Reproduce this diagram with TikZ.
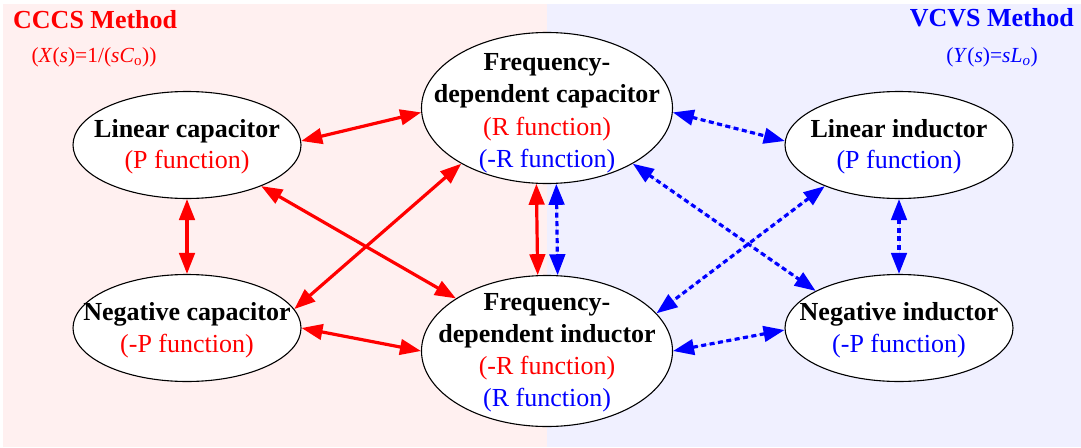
\documentclass[tikz,border=0pt]{standalone}
\usepackage{fontspec}
\setmainfont{Liberation Serif}
\usetikzlibrary{arrows.meta,shapes.geometric}
\definecolor{bgpink}{RGB}{255,240,240}
\definecolor{bgblue}{RGB}{240,240,255}
\begin{document}
\begin{tikzpicture}[x=1pt,y=-1pt,
  ell/.style={ellipse,draw=black,line width=1.1pt,fill=white,inner sep=0pt},
  smallell/.style={ell,minimum width=228pt,minimum height=107pt},
  bigell/.style={ell,minimum width=251pt,minimum height=151pt},
  ttl/.style={anchor=base,inner sep=0pt,font=\fontsize{26}{31}\selectfont\bfseries},
  fn/.style={anchor=base,inner sep=0pt,font=\fontsize{26}{31}\selectfont},
  hdr/.style={inner sep=0pt,font=\fontsize{26}{30}\selectfont\bfseries},
  sub/.style={anchor=base,inner sep=0pt,font=\fontsize{21.5}{26}\selectfont},
  rarr/.style={draw=red,fill=red,line width=3.2pt,{Triangle[length=21pt,width=15.5pt]}-{Triangle[length=21pt,width=15.5pt]}},
  barr/.style={draw=blue,fill=blue,line width=3.2pt,dash pattern=on 5pt off 3.5pt,{Triangle[length=21pt,width=15.5pt]}-{Triangle[length=21pt,width=15.5pt]}}
]
\useasboundingbox (0,0) rectangle (1081,447);
\fill[bgpink] (3,4) rectangle (547,447);
\fill[bgblue] (547,4) rectangle (1081,447);

% headers
\node[hdr,anchor=base west,text=red] (h1) at (13,28) {CCCS Method};
\node[sub,text=red] (s1) at (94,62) {(\textit{X}(\textit{s})=1/(\textit{sC}\textsubscript{o}))};
\node[hdr,anchor=base east,text=blue] (h2) at (1074,27) {VCVS Method};
\node[sub,text=blue] (s2) at (992,62) {(\textit{Y}(\textit{s})=\textit{sL}\textsubscript{\textit{o}})};

% ellipses
\node[smallell] (lc) at (187,145) {};
\node[smallell] (nc) at (187,328) {};
\node[bigell] (fdc) at (547,108) {};
\node[bigell] (fdi) at (547,351) {};
\node[smallell] (li) at (899,145) {};
\node[smallell] (ni) at (899,328) {};

% texts
\node[ttl] (lct) at (187,137) {Linear capacitor};
\node[fn,text=red] (lcf) at (187,168) {(P function)};
\node[ttl] (nct) at (187,320) {Negative capacitor};
\node[fn,text=red] (ncf) at (187,352) {(-P function)};
\node[ttl] (lit) at (899,137) {Linear inductor};
\node[fn,text=blue] (lif) at (899,168) {(P function)};
\node[ttl] (nit) at (899,320) {Negative inductor};
\node[fn,text=blue] (nif) at (899,352) {(-P function)};
\node[ttl] (fdct1) at (547,70) {Frequency-};
\node[ttl] (fdct2) at (547,102) {dependent capacitor};
\node[fn,text=red] (fdcf1) at (547,135) {(R function)};
\node[fn,text=blue] (fdcf2) at (547,167) {(-R function)};
\node[ttl] (fdit1) at (547,310) {Frequency-};
\node[ttl] (fdit2) at (547,342) {dependent inductor};
\node[fn,text=red] (fdif1) at (547,374) {(-R function)};
\node[fn,text=blue] (fdif2) at (547,406) {(R function)};

% red connectors
\draw[rarr] (lc.2.5) -- (fdc.182.3);
\draw[rarr] (lc.south) -- (nc.north);
\draw[rarr] (lc.-29.2) -- (fdi.150.1);
\draw[rarr] (fdc.213.5) -- (nc.10.5);
\draw[rarr] (nc.-0.5) -- (fdi.180);
\draw[rarr] (fdc.262.4) -- (fdi.97.6);

% blue connectors
\draw[barr] (fdc.277.6) -- (fdi.82.4);
\draw[barr] (fdc.-2.3) -- (li.178.5);
\draw[barr] (fdc.-33.2) -- (ni.156.8);
\draw[barr] (li.209.6) -- (fdi.19.4);
\draw[barr] (li.south) -- (ni.north);
\draw[barr] (fdi.0) -- (ni.181);
\end{tikzpicture}
\end{document}
